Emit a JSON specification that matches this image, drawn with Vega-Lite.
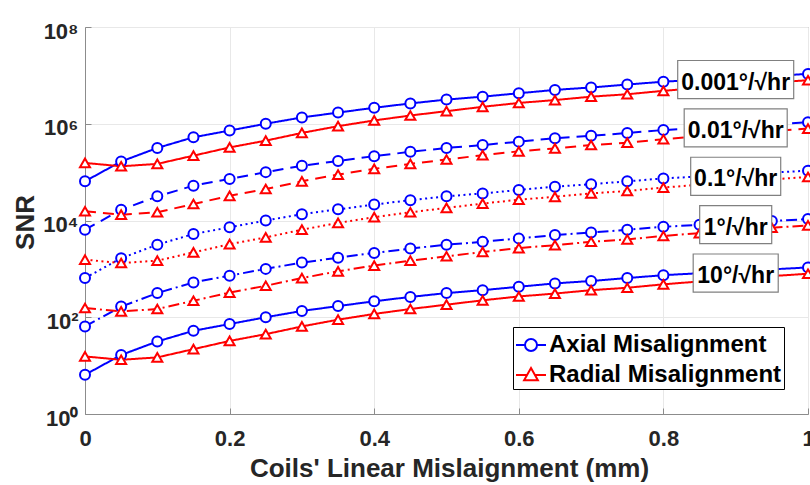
{
  "$schema": "https://vega.github.io/schema/vega-lite/v6.json",
  "width": 723,
  "height": 387,
  "autosize": {"type": "none"},
  "padding": {"left": 85, "top": 27, "right": 2, "bottom": 71},
  "background": "white",
  "config": {
    "font": "Liberation Sans",
    "view": {"stroke": "#8c8c8c", "strokeWidth": 1},
    "axis": {
      "domainColor": "#8c8c8c",
      "tickColor": "#8c8c8c",
      "gridColor": "#e8e8e8",
      "gridWidth": 1,
      "labelFont": "Liberation Sans",
      "labelFontWeight": "bold",
      "labelColor": "#262626",
      "labelFontSize": 22,
      "titleFont": "Liberation Sans",
      "titleFontWeight": "bold",
      "titleColor": "#262626",
      "titleFontSize": 26,
      "labelFlush": false,
      "labelOverlap": false,
      "labelBound": false
    }
  },
  "datasets": {
    "curves": [
      {"rate": "0.001°/√hr", "x": 0, "Axial Misalignment": 6.46e4, "Radial Misalignment": 1.55e5},
      {"rate": "0.001°/√hr", "x": 0.05, "Axial Misalignment": 1.66e5, "Radial Misalignment": 1.32e5},
      {"rate": "0.001°/√hr", "x": 0.1, "Axial Misalignment": 3.16e5, "Radial Misalignment": 1.48e5},
      {"rate": "0.001°/√hr", "x": 0.15, "Axial Misalignment": 5.25e5, "Radial Misalignment": 2.19e5},
      {"rate": "0.001°/√hr", "x": 0.2, "Axial Misalignment": 7.24e5, "Radial Misalignment": 3.24e5},
      {"rate": "0.001°/√hr", "x": 0.25, "Axial Misalignment": 1.00e6, "Radial Misalignment": 4.47e5},
      {"rate": "0.001°/√hr", "x": 0.3, "Axial Misalignment": 1.35e6, "Radial Misalignment": 6.46e5},
      {"rate": "0.001°/√hr", "x": 0.35, "Axial Misalignment": 1.70e6, "Radial Misalignment": 8.91e5},
      {"rate": "0.001°/√hr", "x": 0.4, "Axial Misalignment": 2.14e6, "Radial Misalignment": 1.17e6},
      {"rate": "0.001°/√hr", "x": 0.45, "Axial Misalignment": 2.63e6, "Radial Misalignment": 1.48e6},
      {"rate": "0.001°/√hr", "x": 0.5, "Axial Misalignment": 3.16e6, "Radial Misalignment": 1.82e6},
      {"rate": "0.001°/√hr", "x": 0.55, "Axial Misalignment": 3.63e6, "Radial Misalignment": 2.24e6},
      {"rate": "0.001°/√hr", "x": 0.6, "Axial Misalignment": 4.27e6, "Radial Misalignment": 2.69e6},
      {"rate": "0.001°/√hr", "x": 0.65, "Axial Misalignment": 5.01e6, "Radial Misalignment": 3.09e6},
      {"rate": "0.001°/√hr", "x": 0.7, "Axial Misalignment": 5.62e6, "Radial Misalignment": 3.63e6},
      {"rate": "0.001°/√hr", "x": 0.75, "Axial Misalignment": 6.46e6, "Radial Misalignment": 4.07e6},
      {"rate": "0.001°/√hr", "x": 0.8, "Axial Misalignment": 7.41e6, "Radial Misalignment": 4.79e6},
      {"rate": "0.001°/√hr", "x": 0.85, "Axial Misalignment": 8.13e6, "Radial Misalignment": 5.50e6},
      {"rate": "0.001°/√hr", "x": 0.9, "Axial Misalignment": 8.91e6, "Radial Misalignment": 6.31e6},
      {"rate": "0.001°/√hr", "x": 0.95, "Axial Misalignment": 9.77e6, "Radial Misalignment": 7.08e6},
      {"rate": "0.001°/√hr", "x": 1, "Axial Misalignment": 1.07e7, "Radial Misalignment": 7.94e6},

      {"rate": "0.01°/√hr", "x": 0, "Axial Misalignment": 6.46e3, "Radial Misalignment": 1.55e4},
      {"rate": "0.01°/√hr", "x": 0.05, "Axial Misalignment": 1.66e4, "Radial Misalignment": 1.32e4},
      {"rate": "0.01°/√hr", "x": 0.1, "Axial Misalignment": 3.16e4, "Radial Misalignment": 1.48e4},
      {"rate": "0.01°/√hr", "x": 0.15, "Axial Misalignment": 5.25e4, "Radial Misalignment": 2.19e4},
      {"rate": "0.01°/√hr", "x": 0.2, "Axial Misalignment": 7.24e4, "Radial Misalignment": 3.24e4},
      {"rate": "0.01°/√hr", "x": 0.25, "Axial Misalignment": 1.00e5, "Radial Misalignment": 4.47e4},
      {"rate": "0.01°/√hr", "x": 0.3, "Axial Misalignment": 1.35e5, "Radial Misalignment": 6.46e4},
      {"rate": "0.01°/√hr", "x": 0.35, "Axial Misalignment": 1.70e5, "Radial Misalignment": 8.91e4},
      {"rate": "0.01°/√hr", "x": 0.4, "Axial Misalignment": 2.14e5, "Radial Misalignment": 1.17e5},
      {"rate": "0.01°/√hr", "x": 0.45, "Axial Misalignment": 2.63e5, "Radial Misalignment": 1.48e5},
      {"rate": "0.01°/√hr", "x": 0.5, "Axial Misalignment": 3.16e5, "Radial Misalignment": 1.82e5},
      {"rate": "0.01°/√hr", "x": 0.55, "Axial Misalignment": 3.63e5, "Radial Misalignment": 2.24e5},
      {"rate": "0.01°/√hr", "x": 0.6, "Axial Misalignment": 4.27e5, "Radial Misalignment": 2.69e5},
      {"rate": "0.01°/√hr", "x": 0.65, "Axial Misalignment": 5.01e5, "Radial Misalignment": 3.09e5},
      {"rate": "0.01°/√hr", "x": 0.7, "Axial Misalignment": 5.62e5, "Radial Misalignment": 3.63e5},
      {"rate": "0.01°/√hr", "x": 0.75, "Axial Misalignment": 6.46e5, "Radial Misalignment": 4.07e5},
      {"rate": "0.01°/√hr", "x": 0.8, "Axial Misalignment": 7.41e5, "Radial Misalignment": 4.79e5},
      {"rate": "0.01°/√hr", "x": 0.85, "Axial Misalignment": 8.13e5, "Radial Misalignment": 5.50e5},
      {"rate": "0.01°/√hr", "x": 0.9, "Axial Misalignment": 8.91e5, "Radial Misalignment": 6.31e5},
      {"rate": "0.01°/√hr", "x": 0.95, "Axial Misalignment": 9.77e5, "Radial Misalignment": 7.08e5},
      {"rate": "0.01°/√hr", "x": 1, "Axial Misalignment": 1.07e6, "Radial Misalignment": 7.94e5},

      {"rate": "0.1°/√hr", "x": 0, "Axial Misalignment": 6.46e2, "Radial Misalignment": 1.55e3},
      {"rate": "0.1°/√hr", "x": 0.05, "Axial Misalignment": 1.66e3, "Radial Misalignment": 1.32e3},
      {"rate": "0.1°/√hr", "x": 0.1, "Axial Misalignment": 3.16e3, "Radial Misalignment": 1.48e3},
      {"rate": "0.1°/√hr", "x": 0.15, "Axial Misalignment": 5.25e3, "Radial Misalignment": 2.19e3},
      {"rate": "0.1°/√hr", "x": 0.2, "Axial Misalignment": 7.24e3, "Radial Misalignment": 3.24e3},
      {"rate": "0.1°/√hr", "x": 0.25, "Axial Misalignment": 1.00e4, "Radial Misalignment": 4.47e3},
      {"rate": "0.1°/√hr", "x": 0.3, "Axial Misalignment": 1.35e4, "Radial Misalignment": 6.46e3},
      {"rate": "0.1°/√hr", "x": 0.35, "Axial Misalignment": 1.70e4, "Radial Misalignment": 8.91e3},
      {"rate": "0.1°/√hr", "x": 0.4, "Axial Misalignment": 2.14e4, "Radial Misalignment": 1.17e4},
      {"rate": "0.1°/√hr", "x": 0.45, "Axial Misalignment": 2.63e4, "Radial Misalignment": 1.48e4},
      {"rate": "0.1°/√hr", "x": 0.5, "Axial Misalignment": 3.16e4, "Radial Misalignment": 1.82e4},
      {"rate": "0.1°/√hr", "x": 0.55, "Axial Misalignment": 3.63e4, "Radial Misalignment": 2.24e4},
      {"rate": "0.1°/√hr", "x": 0.6, "Axial Misalignment": 4.27e4, "Radial Misalignment": 2.69e4},
      {"rate": "0.1°/√hr", "x": 0.65, "Axial Misalignment": 5.01e4, "Radial Misalignment": 3.09e4},
      {"rate": "0.1°/√hr", "x": 0.7, "Axial Misalignment": 5.62e4, "Radial Misalignment": 3.63e4},
      {"rate": "0.1°/√hr", "x": 0.75, "Axial Misalignment": 6.46e4, "Radial Misalignment": 4.07e4},
      {"rate": "0.1°/√hr", "x": 0.8, "Axial Misalignment": 7.41e4, "Radial Misalignment": 4.79e4},
      {"rate": "0.1°/√hr", "x": 0.85, "Axial Misalignment": 8.13e4, "Radial Misalignment": 5.50e4},
      {"rate": "0.1°/√hr", "x": 0.9, "Axial Misalignment": 8.91e4, "Radial Misalignment": 6.31e4},
      {"rate": "0.1°/√hr", "x": 0.95, "Axial Misalignment": 9.77e4, "Radial Misalignment": 7.08e4},
      {"rate": "0.1°/√hr", "x": 1, "Axial Misalignment": 1.07e5, "Radial Misalignment": 7.94e4},

      {"rate": "1°/√hr", "x": 0, "Axial Misalignment": 64.6, "Radial Misalignment": 155},
      {"rate": "1°/√hr", "x": 0.05, "Axial Misalignment": 166, "Radial Misalignment": 132},
      {"rate": "1°/√hr", "x": 0.1, "Axial Misalignment": 316, "Radial Misalignment": 148},
      {"rate": "1°/√hr", "x": 0.15, "Axial Misalignment": 525, "Radial Misalignment": 219},
      {"rate": "1°/√hr", "x": 0.2, "Axial Misalignment": 724, "Radial Misalignment": 324},
      {"rate": "1°/√hr", "x": 0.25, "Axial Misalignment": 1.00e3, "Radial Misalignment": 447},
      {"rate": "1°/√hr", "x": 0.3, "Axial Misalignment": 1.35e3, "Radial Misalignment": 646},
      {"rate": "1°/√hr", "x": 0.35, "Axial Misalignment": 1.70e3, "Radial Misalignment": 891},
      {"rate": "1°/√hr", "x": 0.4, "Axial Misalignment": 2.14e3, "Radial Misalignment": 1.17e3},
      {"rate": "1°/√hr", "x": 0.45, "Axial Misalignment": 2.63e3, "Radial Misalignment": 1.48e3},
      {"rate": "1°/√hr", "x": 0.5, "Axial Misalignment": 3.16e3, "Radial Misalignment": 1.82e3},
      {"rate": "1°/√hr", "x": 0.55, "Axial Misalignment": 3.63e3, "Radial Misalignment": 2.24e3},
      {"rate": "1°/√hr", "x": 0.6, "Axial Misalignment": 4.27e3, "Radial Misalignment": 2.69e3},
      {"rate": "1°/√hr", "x": 0.65, "Axial Misalignment": 5.01e3, "Radial Misalignment": 3.09e3},
      {"rate": "1°/√hr", "x": 0.7, "Axial Misalignment": 5.62e3, "Radial Misalignment": 3.63e3},
      {"rate": "1°/√hr", "x": 0.75, "Axial Misalignment": 6.46e3, "Radial Misalignment": 4.07e3},
      {"rate": "1°/√hr", "x": 0.8, "Axial Misalignment": 7.41e3, "Radial Misalignment": 4.79e3},
      {"rate": "1°/√hr", "x": 0.85, "Axial Misalignment": 8.13e3, "Radial Misalignment": 5.50e3},
      {"rate": "1°/√hr", "x": 0.9, "Axial Misalignment": 8.91e3, "Radial Misalignment": 6.31e3},
      {"rate": "1°/√hr", "x": 0.95, "Axial Misalignment": 9.77e3, "Radial Misalignment": 7.08e3},
      {"rate": "1°/√hr", "x": 1, "Axial Misalignment": 1.07e4, "Radial Misalignment": 7.94e3},

      {"rate": "10°/√hr", "x": 0, "Axial Misalignment": 6.46, "Radial Misalignment": 15.5},
      {"rate": "10°/√hr", "x": 0.05, "Axial Misalignment": 16.6, "Radial Misalignment": 13.2},
      {"rate": "10°/√hr", "x": 0.1, "Axial Misalignment": 31.6, "Radial Misalignment": 14.8},
      {"rate": "10°/√hr", "x": 0.15, "Axial Misalignment": 52.5, "Radial Misalignment": 21.9},
      {"rate": "10°/√hr", "x": 0.2, "Axial Misalignment": 72.4, "Radial Misalignment": 32.4},
      {"rate": "10°/√hr", "x": 0.25, "Axial Misalignment": 100, "Radial Misalignment": 44.7},
      {"rate": "10°/√hr", "x": 0.3, "Axial Misalignment": 135, "Radial Misalignment": 64.6},
      {"rate": "10°/√hr", "x": 0.35, "Axial Misalignment": 170, "Radial Misalignment": 89.1},
      {"rate": "10°/√hr", "x": 0.4, "Axial Misalignment": 214, "Radial Misalignment": 117},
      {"rate": "10°/√hr", "x": 0.45, "Axial Misalignment": 263, "Radial Misalignment": 148},
      {"rate": "10°/√hr", "x": 0.5, "Axial Misalignment": 316, "Radial Misalignment": 182},
      {"rate": "10°/√hr", "x": 0.55, "Axial Misalignment": 363, "Radial Misalignment": 224},
      {"rate": "10°/√hr", "x": 0.6, "Axial Misalignment": 427, "Radial Misalignment": 269},
      {"rate": "10°/√hr", "x": 0.65, "Axial Misalignment": 501, "Radial Misalignment": 309},
      {"rate": "10°/√hr", "x": 0.7, "Axial Misalignment": 562, "Radial Misalignment": 363},
      {"rate": "10°/√hr", "x": 0.75, "Axial Misalignment": 646, "Radial Misalignment": 407},
      {"rate": "10°/√hr", "x": 0.8, "Axial Misalignment": 741, "Radial Misalignment": 479},
      {"rate": "10°/√hr", "x": 0.85, "Axial Misalignment": 813, "Radial Misalignment": 550},
      {"rate": "10°/√hr", "x": 0.9, "Axial Misalignment": 891, "Radial Misalignment": 631},
      {"rate": "10°/√hr", "x": 0.95, "Axial Misalignment": 977, "Radial Misalignment": 708},
      {"rate": "10°/√hr", "x": 1, "Axial Misalignment": 1.07e3, "Radial Misalignment": 794}
    ],
    "rateLabels": [
      {"rate": "0.001°/√hr", "x": 0.9, "snr": 8.2e6},
      {"rate": "0.01°/√hr", "x": 0.9, "snr": 8.2e5},
      {"rate": "0.1°/√hr", "x": 0.9, "snr": 8.2e4},
      {"rate": "1°/√hr", "x": 0.9, "snr": 8.2e3},
      {"rate": "10°/√hr", "x": 0.9, "snr": 8.2e2}
    ]
  },
  "encoding": {
    "x": {
      "field": "x",
      "type": "quantitative",
      "scale": {"domain": [0, 1], "nice": false, "zero": false},
      "axis": {
        "title": "Coils' Linear Mislaignment (mm)",
        "values": [0, 0.2, 0.4, 0.6, 0.8, 1],
        "format": ".1~f",
        "grid": true,
        "tickSize": -6,
        "labelPadding": 20,
        "labelBaseline": "top",
        "titleX": 364,
        "titleY": 62,
        "titleBaseline": "alphabetic"
      }
    },
    "y": {
      "field": "snr",
      "type": "quantitative",
      "scale": {"type": "log", "domain": [1, 100000000], "nice": false},
      "axis": {
        "title": "SNR",
        "values": [1, 100, 10000, 1000000, 100000000],
        "labelExpr": "datum.value == 1 ? '10⁰' : datum.value == 100 ? '10²' : datum.value == 10000 ? '10⁴' : datum.value == 1000000 ? '10⁶' : '10⁸'",
        "grid": true,
        "tickSize": -6,
        "labelPadding": 13,
        "labelBaseline": "middle",
        "labelOffset": 4,
        "titleX": -52,
        "titleY": 195,
        "titleAngle": -90,
        "titleBaseline": "alphabetic"
      }
    }
  },
  "layer": [
    {
      "data": {"name": "curves"},
      "transform": [
        {"fold": ["Axial Misalignment", "Radial Misalignment"], "as": ["series", "snr"]}
      ],
      "encoding": {
        "color": {
          "field": "series",
          "type": "nominal",
          "scale": {
            "domain": ["Axial Misalignment", "Radial Misalignment"],
            "range": ["#0000ff", "#ff0000"]
          },
          "legend": {
            "title": null,
            "orient": "none",
            "legendX": 428,
            "legendY": 300,
            "padding": 2,
            "rowPadding": 2,
            "symbolSize": 900,
            "symbolStrokeWidth": 2,
            "labelFont": "Liberation Sans",
            "labelFontSize": 24,
            "labelFontWeight": "bold",
            "labelColor": "#000000",
            "labelOffset": 2,
            "labelLimit": 400,
            "fillColor": "#ffffff",
            "strokeColor": "#000000",
            "encode": {
              "symbols": {
                "update": {
                  "shape": {"signal": "datum.value === 'Axial Misalignment' ? 'M-1,0H-0.4M0.4,0H1M-0.4,0A0.4,0.4,0,1,0,0.4,0A0.4,0.4,0,1,0,-0.4,0Z' : 'M-1,0H-0.25M0.25,0H1M0,-0.47L0.46,0.35L-0.46,0.35Z'"},
                  "fill": {"value": "#ffffff"},
                  "strokeWidth": {"value": 2}
                }
              }
            }
          }
        }
      },
      "layer": [
        {
          "mark": {"type": "line", "strokeWidth": 2},
          "encoding": {
            "strokeDash": {
              "field": "rate",
              "type": "nominal",
              "scale": {
                "domain": ["0.001°/√hr", "0.01°/√hr", "0.1°/√hr", "1°/√hr", "10°/√hr"],
                "range": [[1, 0], [11, 7], [2, 3.5], [11, 4, 2, 4], [1, 0]]
              },
              "legend": null
            },
            "detail": {"field": "series"}
          }
        },
        {
          "mark": {"type": "point", "filled": false, "fill": "#ffffff", "fillOpacity": 1, "opacity": 1, "strokeWidth": 2, "size": 100},
          "encoding": {
            "shape": {
              "field": "series",
              "type": "nominal",
              "scale": {
                "domain": ["Axial Misalignment", "Radial Misalignment"],
                "range": ["circle", "triangle-up"]
              }
            }
          }
        }
      ]
    },
    {
      "data": {"name": "rateLabels"},
      "layer": [
        {
          "mark": {"type": "point", "filled": true, "fill": "#ffffff", "stroke": "#808080", "strokeWidth": 1.2, "opacity": 1, "size": 13456},
          "encoding": {
            "shape": {
              "field": "rate",
              "type": "nominal",
              "scale": {
                "domain": ["0.001°/√hr", "0.01°/√hr", "0.1°/√hr", "1°/√hr", "10°/√hr"],
                "range": [
                  "M-1,-0.328H1V0.328H-1Z",
                  "M-0.888,-0.328H0.888V0.328H-0.888Z",
                  "M-0.776,-0.328H0.776V0.328H-0.776Z",
                  "M-0.621,-0.328H0.621V0.328H-0.621Z",
                  "M-0.733,-0.328H0.733V0.328H-0.733Z"
                ]
              },
              "legend": null
            }
          }
        },
        {
          "mark": {"type": "text", "font": "Liberation Sans", "fontSize": 23, "fontWeight": "bold", "color": "#000000", "align": "center", "baseline": "middle", "dy": 3},
          "encoding": {"text": {"field": "rate"}}
        }
      ]
    }
  ],
  "resolve": {"scale": {"shape": "independent"}}
}
